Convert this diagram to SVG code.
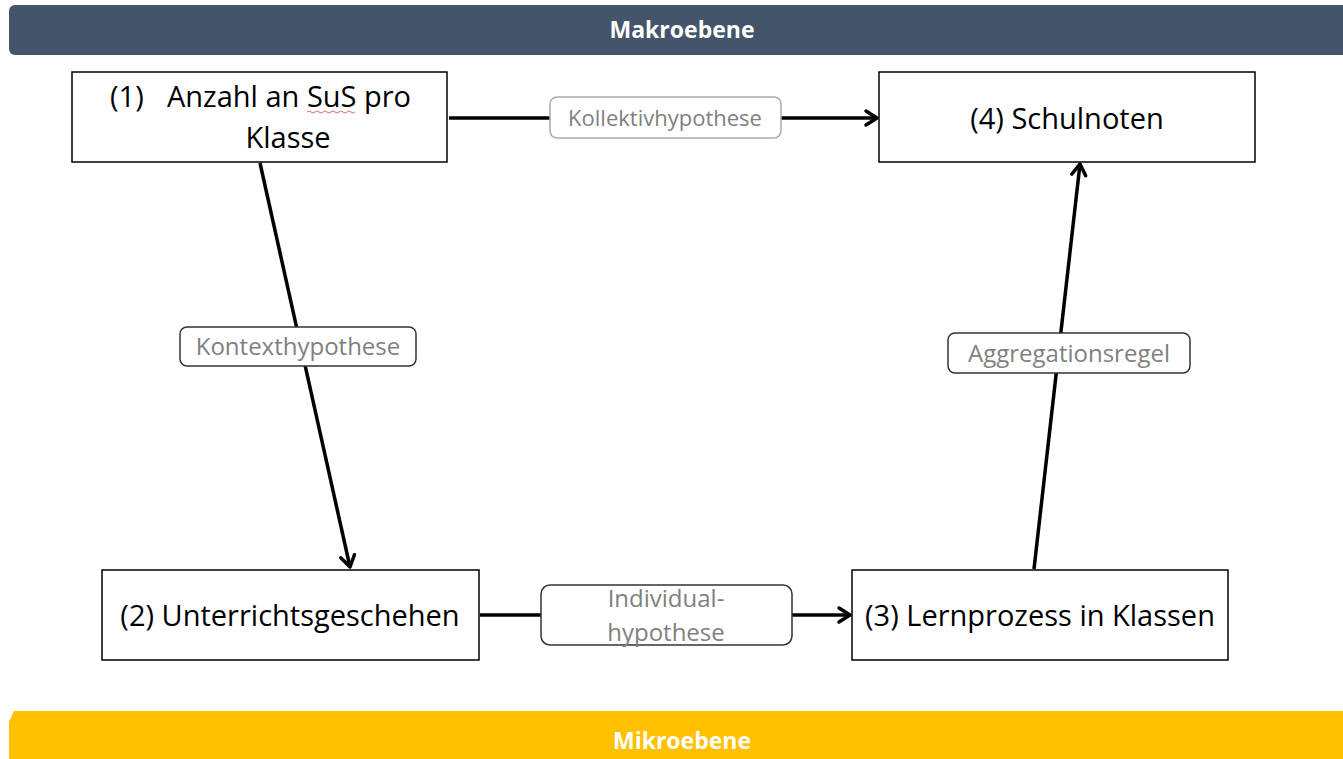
<svg xmlns="http://www.w3.org/2000/svg" width="1343" height="759" viewBox="0 0 1343 759">
<defs>
<style>
.box{fill:#fff;stroke:#000;stroke-width:1.5}
.node{font-family:"Open Sans","Liberation Sans",sans-serif;font-size:29px;fill:#000;text-anchor:middle}
.st{text-anchor:start}
.lbl{fill:#fff;stroke:#333;stroke-width:1.5}
.lblg{fill:#fff;stroke:#aaa;stroke-width:1.5}
.lt{font-family:"Open Sans","Liberation Sans",sans-serif;font-size:24px;fill:#808080;text-anchor:middle}
.sm{font-size:22px}
.ln{stroke:#000;stroke-width:3.5;fill:none;marker-end:url(#arr)}
.band{font-family:"Open Sans","Liberation Sans",sans-serif;font-size:23px;font-weight:bold;fill:#fff;text-anchor:middle}
</style>
<marker id="arr" markerUnits="userSpaceOnUse" markerWidth="20" markerHeight="20" viewBox="0 0 20 20" refX="17" refY="10" orient="auto">
<path d="M6,3 L17,10 L6,17" fill="none" stroke="#000" stroke-width="3.5" stroke-linecap="round" stroke-linejoin="round"/>
</marker>
</defs>
<rect width="1343" height="759" fill="#fff"/>
<g id="makro">
<rect x="9" y="5" width="1345" height="50" rx="6" fill="#44546A"/>
<text class="band" x="682" y="38">Makroebene</text>
</g>
<g id="mikro">
<path d="M14,711 L1343,711 L1343,759 L9,759 L9,722 Z" fill="#FFC000"/>
<text class="band" x="682" y="749">Mikroebene</text>
</g>
<g id="connectors">
<line class="ln" x1="449" y1="118" x2="877" y2="118"/>
<line class="ln" x1="260" y1="163" x2="350" y2="567"/>
<line class="ln" x1="480" y1="615" x2="850" y2="615"/>
<line class="ln" x1="1034" y1="569" x2="1080" y2="164"/>
<g id="lbl-kollektiv">
<rect class="lblg" x="550" y="97" width="231" height="41" rx="7"/>
<text class="lt sm" x="665" y="126">Kollektivhypothese</text>
</g>
<g id="lbl-kontext">
<rect class="lbl" x="180" y="327" width="236" height="39" rx="7"/>
<text class="lt" x="298" y="355">Kontexthypothese</text>
</g>
<g id="lbl-individual">
<rect class="lbl" x="541" y="585" width="251" height="60" rx="9"/>
<text class="lt" x="666" y="607">Individual-</text>
<text class="lt" x="666" y="641">hypothese</text>
</g>
<g id="lbl-aggregation">
<rect class="lbl" x="948" y="333" width="242" height="40" rx="7"/>
<text class="lt" x="1069" y="362">Aggregationsregel</text>
</g>
</g>
<g id="n1">
<rect class="box" x="72" y="72" width="375" height="90"/>
<text class="node st" x="110" y="107">(1)</text>
<text class="node st" x="167" y="107">Anzahl an SuS pro</text>
<text class="node" x="288" y="148">Klasse</text>
<path d="M307,112 q2,-2 4,0 t4,0 t4,0 t4,0 t4,0 t4,0 t4,0 t4,0 t4,0 t4,0 t4,0 t4,0" fill="none" stroke="#e04040" stroke-width="0.8"/>
</g>
<g id="n2">
<rect class="box" x="102" y="570" width="377" height="90"/>
<text class="node" x="290" y="626">(2) Unterrichtsgeschehen</text>
</g>
<g id="n3">
<rect class="box" x="852" y="570" width="376" height="90"/>
<text class="node" x="1040" y="626">(3) Lernprozess in Klassen</text>
</g>
<g id="n4">
<rect class="box" x="879" y="72" width="376" height="90"/>
<text class="node" x="1067" y="129">(4) Schulnoten</text>
</g>
</svg>
